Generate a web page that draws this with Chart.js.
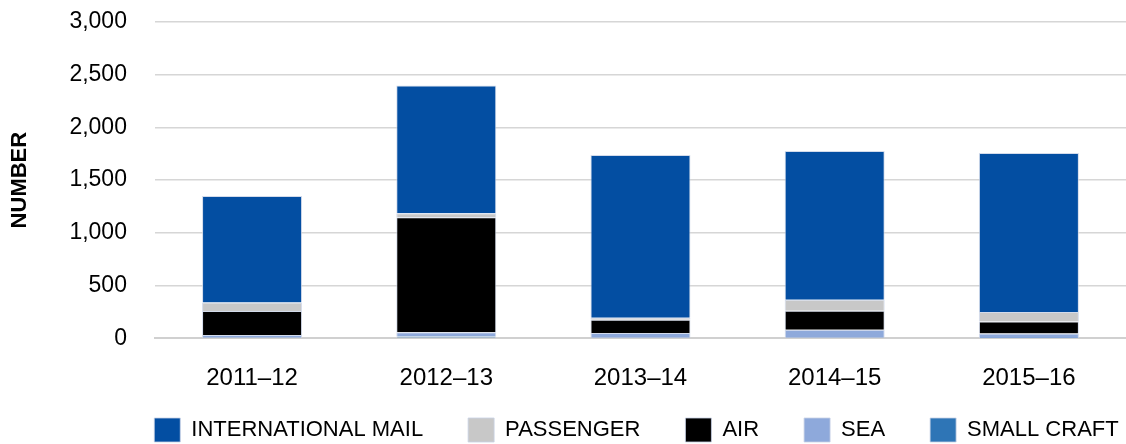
<!DOCTYPE html>
<html>
<head>
<meta charset="utf-8">
<script src="https://cdn.jsdelivr.net/npm/chart.js@4"></script>
<style>
  html, body { margin: 0; padding: 0; background: #fff; }
  #wrap { width: 1126px; height: 444px; }
</style>
</head>
<body>
<div id="wrap"><canvas id="chart"></canvas></div>
<script>
// data
const years = ['2011\u201312', '2012\u201313', '2013\u201314', '2014\u201315', '2015\u201316'];
const smallCraft = [5, 19, 4, 4, 3];
const sea = [25, 38, 45, 76, 42];
const air = [228, 1091, 127, 180, 114];
const passenger = [80, 38, 19, 104, 89];
const intlMail = [1010, 1212, 1542, 1411, 1508];
const yTicks = [0, 500, 1000, 1500, 2000, 2500, 3000];

const fontName = "'Liberation Sans', Arial, sans-serif";
const legendPad = 45;

// bottom to top; legend reversed so mail comes first
const series = [
  { label: 'SMALL CRAFT', data: smallCraft, color: '#2E75B6' },
  { label: 'SEA', data: sea, color: '#8EA9DB' },
  { label: 'AIR', data: air, color: '#000000' },
  { label: 'PASSENGER', data: passenger, color: '#C8C8C8' },
  { label: 'INTERNATIONAL MAIL', data: intlMail, color: '#034EA2' }
];

// wide legend padding gives the item spacing, but it also makes the box tall:
// keep the box short, draw the items higher and centre them under the plot
const legendTrim = {
  id: 'legendTrim',
  beforeInit(chart) {
    const lg = chart.legend;
    const fit = lg.fit;
    lg.fit = function () {
      fit.call(this);
      this.height = 33;
    };
    const drawItems = lg._draw;
    lg._draw = function () {
      const area = this.chart.chartArea;
      const shift = (area.left + area.right) / 2 - (this.left + this.right) / 2;
      this.ctx.save();
      this.ctx.translate(shift - 4, -(legendPad - 7));
      drawItems.call(this);
      this.ctx.restore();
    };
  }
};

new Chart(document.getElementById('chart'), {
  type: 'bar',
  data: {
    labels: years,
    datasets: series.map(s => ({
      label: s.label,
      data: s.data,
      backgroundColor: s.color,
      borderColor: 'rgba(200,210,230,0.8)',
      borderWidth: 1,
      categoryPercentage: 1,
      barPercentage: 0.515
    }))
  },
  options: {
    responsive: true,
    maintainAspectRatio: false,
    animation: false,
    layout: { padding: { top: 22, right: 0, left: 3, bottom: 0 } },
    plugins: {
      tooltip: { enabled: false },
      legend: {
        position: 'bottom',
        reverse: true,
        labels: {
          boxWidth: 26,
          boxHeight: 24,
          padding: legendPad,
          color: '#000',
          font: { family: fontName, size: 22 }
        }
      }
    },
    scales: {
      x: {
        stacked: true,
        grid: { display: false },
        border: { color: '#d0d0d0', width: 2 },
        ticks: { color: '#000', font: { family: fontName, size: 24 }, padding: 18 }
      },
      y: {
        stacked: true,
        min: 0,
        max: 3000,
        afterBuildTicks: axis => { axis.ticks = yTicks.map(v => ({ value: v })); },
        afterFit: axis => { axis.paddingTop = 0; },
        grid: { color: '#d6d6d6', lineWidth: 1.5, drawTicks: false },
        border: { display: false },
        ticks: {
          color: '#000',
          padding: 28,
          font: { family: fontName, size: 23 },
          callback: v => v.toLocaleString('en-US')
        },
        title: {
          display: true,
          text: 'NUMBER',
          color: '#000',
          font: { family: fontName, size: 22, weight: 'bold' },
          padding: { bottom: 8 }
        }
      }
    }
  },
  plugins: [legendTrim]
});
</script>
</body>
</html>
